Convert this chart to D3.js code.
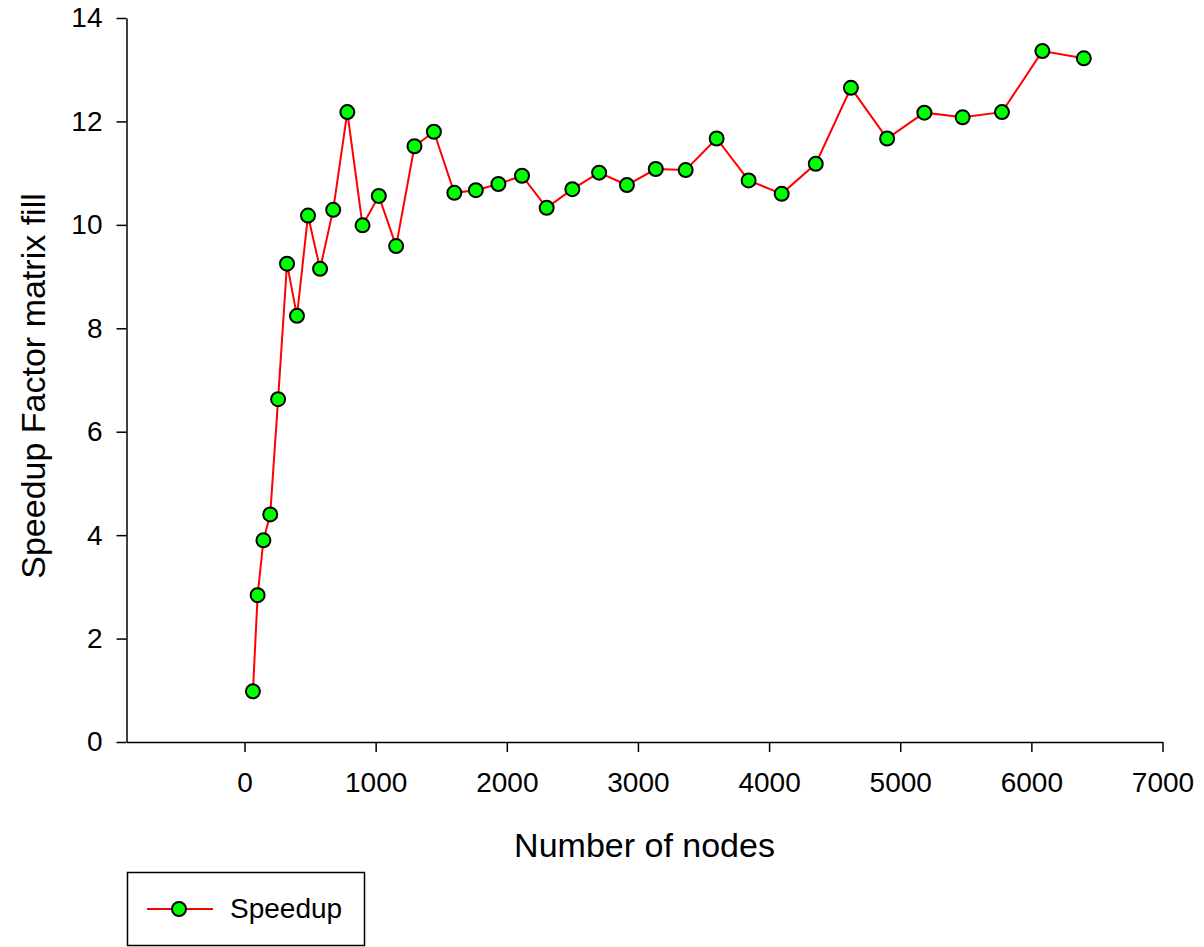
<!DOCTYPE html>
<html>
<head>
<meta charset="utf-8">
<script src="https://cdn.jsdelivr.net/npm/d3@7"></script>
<style>
  html, body { margin: 0; padding: 0; background: #fff; }
  svg { display: block; font-family: "Liberation Sans", Arial, sans-serif; }
</style>
</head>
<body>
<svg id="chart" width="1204" height="947"></svg>
<script>
// Number of mesh nodes for each run
const nodes = [64, 100, 144, 196, 256, 324, 400, 484, 576, 676, 784, 900, 1024, 1156,
  1296, 1444, 1600, 1764, 1936, 2116, 2304, 2500, 2704, 2916, 3136, 3364, 3600, 3844,
  4096, 4356, 4624, 4900, 5184, 5476, 5776, 6084, 6400];
// Speedup factor of the matrix fill
const speedup = [0.98, 2.84, 3.90, 4.40, 6.63, 9.25, 8.24, 10.18, 9.15, 10.29, 12.18, 9.99,
  10.56, 9.59, 11.52, 11.80, 10.62, 10.67, 10.79, 10.95, 10.33, 10.69, 11.01, 10.77, 11.08,
  11.06, 11.67, 10.86, 10.60, 11.18, 12.65, 11.67, 12.17, 12.08, 12.18, 13.36, 13.22];
const xTicks = [0, 1000, 2000, 3000, 4000, 5000, 6000, 7000];
const yTicks = [0, 2, 4, 6, 8, 10, 12, 14];
const xTitle = "Number of nodes";
const yTitle = "Speedup Factor matrix fill";
const seriesName = "Speedup";

const svg = d3.select("#chart");
const plot = { left: 126.5, right: 1162.5, top: 18, bottom: 742 };

const x = d3.scaleLinear().domain([-900, 7000]).range([plot.left, plot.right]);
const y = d3.scaleLinear().domain([0, 14]).range([plot.bottom, plot.top]);

// Axes
const xAxis = svg.append("g")
  .attr("transform", `translate(0,${plot.bottom})`)
  .call(d3.axisBottom(x).tickValues(xTicks).tickFormat(d3.format("d"))
    .tickSize(10).tickSizeOuter(0).tickPadding(20));
const yAxis = svg.append("g")
  .attr("transform", `translate(${plot.left},0)`)
  .call(d3.axisLeft(y).tickValues(yTicks).tickFormat(d3.format("d"))
    .tickSize(10).tickSizeOuter(0).tickPadding(14));

[xAxis, yAxis].forEach(g => {
  g.select(".domain").attr("stroke", "#000").attr("stroke-width", 1.5);
  g.selectAll(".tick line").attr("stroke", "#000").attr("stroke-width", 1.5);
  g.selectAll(".tick text").attr("fill", "#000")
    .style("font-size", "28px").style("font-family", "'Liberation Sans', Arial, sans-serif");
});
xAxis.selectAll(".tick text").attr("dy", "0.71em");

// Axis titles
svg.append("text")
  .attr("x", (plot.left + plot.right) / 2).attr("y", 857)
  .attr("text-anchor", "middle")
  .style("font-size", "34px").attr("fill", "#000")
  .text(xTitle);
svg.append("text")
  .attr("transform", `translate(45,386) rotate(-90)`)
  .attr("text-anchor", "middle")
  .style("font-size", "34px").attr("fill", "#000")
  .text(yTitle);

// Series line and markers
const data = nodes.map((n, i) => ({ n, s: speedup[i] }));
svg.append("path")
  .datum(data)
  .attr("fill", "none")
  .attr("stroke", "#ff0000")
  .attr("stroke-width", 2)
  .attr("d", d3.line().x(d => x(d.n)).y(d => y(d.s)));
svg.append("g").selectAll("circle")
  .data(data)
  .join("circle")
  .attr("cx", d => x(d.n))
  .attr("cy", d => y(d.s))
  .attr("r", 7)
  .attr("fill", "#00ff00")
  .attr("stroke", "#000")
  .attr("stroke-width", 2);

// Legend
const legend = svg.append("g");
legend.append("rect")
  .attr("x", 127.5).attr("y", 872.5).attr("width", 237).attr("height", 73)
  .attr("fill", "#fff").attr("stroke", "#000").attr("stroke-width", 1.5);
legend.append("line")
  .attr("x1", 147).attr("x2", 213).attr("y1", 909).attr("y2", 909)
  .attr("stroke", "#ff0000").attr("stroke-width", 2);
legend.append("circle")
  .attr("cx", 179).attr("cy", 909).attr("r", 7)
  .attr("fill", "#00ff00").attr("stroke", "#000").attr("stroke-width", 2);
legend.append("text")
  .attr("x", 230).attr("y", 918)
  .style("font-size", "28px").attr("fill", "#000")
  .text(seriesName);
</script>
</body>
</html>
